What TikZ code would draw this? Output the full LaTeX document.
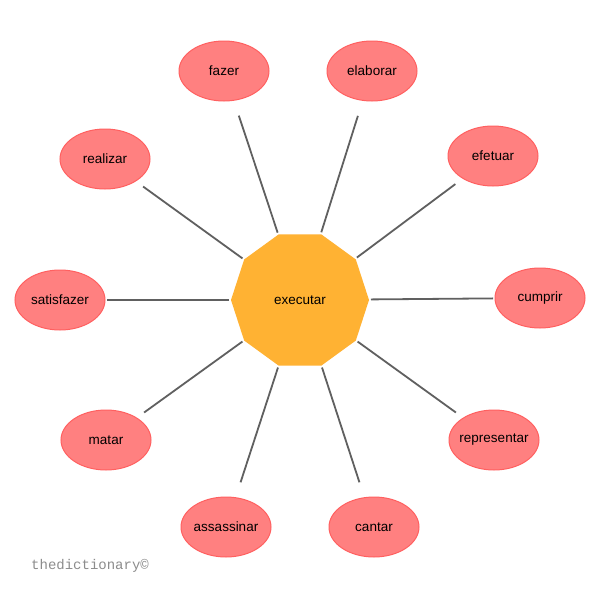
\documentclass[tikz,border=0pt]{standalone}
\usepackage{fontspec}
\setmainfont{Liberation Sans}
\newfontfamily\wmfont{Liberation Mono}
\usetikzlibrary{shapes.geometric}
\definecolor{leaffill}{RGB}{255,128,128}
\definecolor{leafdraw}{RGB}{255,96,96}
\definecolor{hubfill}{RGB}{255,178,51}
\definecolor{linkcol}{RGB}{96,96,96}
\definecolor{wmcol}{RGB}{140,140,140}
\newcommand{\leaflabel}[1]{\makebox[0pt]{#1}}
\tikzset{
  leaf/.style={ellipse, fill=leaffill, draw=leafdraw, line width=1pt, minimum width=90pt, minimum height=60pt, inner sep=0pt, font=\fontsize{13.5}{16}\selectfont},
  hub/.style={inner sep=0pt, font=\fontsize{13.5}{16}\selectfont},
  link/.style={draw=linkcol, line width=1.8pt, shorten <=71pt, shorten >=47pt}
}
\begin{document}
\begin{tikzpicture}[x=1pt,y=-1pt]
\useasboundingbox[fill=white] (0,0) rectangle (600,600);
\begin{scope}[shift={(300,300)}]
\fill[hubfill] (0:69) -- (36:69) -- (72:69) -- (108:69) -- (144:69) -- (180:69) -- (216:69) -- (252:69) -- (288:69) -- (324:69) -- cycle;
\end{scope}
\node[hub] (c) at (300,300) {executar};
\node[leaf] (n1) at (224,71) {\leaflabel{fazer}};
\node[leaf] (n2) at (372,71) {\leaflabel{elaborar}};
\node[leaf] (n3) at (105,159) {\leaflabel{realizar}};
\node[leaf] (n4) at (493,156) {\leaflabel{efetuar}};
\node[leaf] (n5) at (60,300) {\leaflabel{satisfazer}};
\node[leaf] (n6) at (540,298) {\leaflabel{cumprir}};
\node[leaf] (n7) at (106,440) {\leaflabel{matar}};
\node[leaf] (n8) at (494,440) {\leaflabel{representar}};
\node[leaf] (n9) at (226,527) {\leaflabel{assassinar}};
\node[leaf] (n10) at (374,527) {\leaflabel{cantar}};
\foreach \n in {n1,n2,n3,n4,n5,n6,n7,n8,n9,n10} {
  \draw[link] (c.center) -- (\n.center);
}
\node[anchor=west, inner sep=0pt, text=wmcol, font=\wmfont\fontsize{14}{16}\selectfont] (wm) at (31,566) {thedictionary©};
\end{tikzpicture}
\end{document}
